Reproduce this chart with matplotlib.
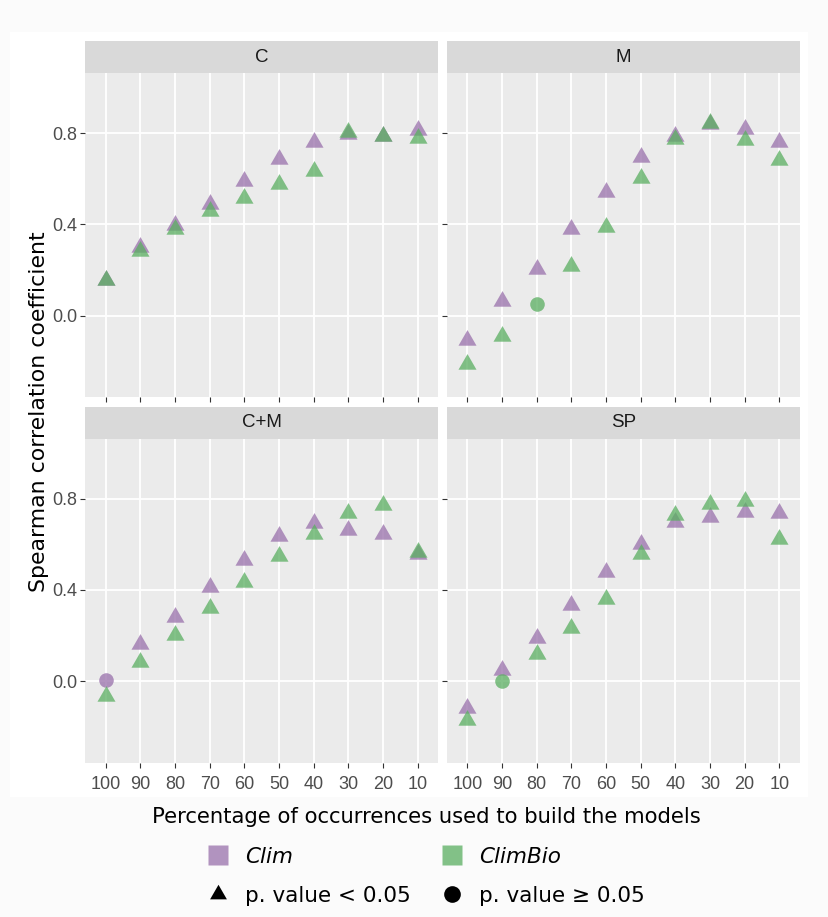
import matplotlib
matplotlib.use("Agg")
import matplotlib.pyplot as plt
from matplotlib.path import Path
from matplotlib.lines import Line2D
from matplotlib.patches import Rectangle
import numpy as np

# ---------------- data ----------------
categories = ["100", "90", "80", "70", "60", "50", "40", "30", "20", "10"]
facets = ["C", "M", "C+M", "SP"]

clim_C = [0.155, 0.300, 0.398, 0.491, 0.591, 0.688, 0.760, 0.796, 0.788, 0.813]
climbio_C = [0.155, 0.284, 0.380, 0.457, 0.517, 0.578, 0.636, 0.803, 0.788, 0.779]

clim_M = [-0.105, 0.066, 0.203, 0.380, 0.542, 0.697, 0.788, 0.840, 0.817, 0.763]
climbio_M = [-0.212, -0.090, 0.053, 0.216, 0.390, 0.602, 0.776, 0.844, 0.769, 0.683]

clim_CM = [0.003, 0.163, 0.279, 0.411, 0.531, 0.637, 0.694, 0.662, 0.644, 0.559]
climbio_CM = [-0.065, 0.085, 0.203, 0.321, 0.434, 0.549, 0.644, 0.738, 0.772, 0.567]

clim_SP = [-0.120, 0.048, 0.189, 0.332, 0.479, 0.603, 0.696, 0.718, 0.741, 0.738]
climbio_SP = [-0.170, -0.001, 0.119, 0.232, 0.361, 0.559, 0.728, 0.779, 0.791, 0.625]

# significance (True = p < 0.05)
sig_clim_C = [True] * 10
sig_climbio_C = [True] * 10
sig_clim_M = [True] * 10
sig_climbio_M = [True, True, False, True, True, True, True, True, True, True]
sig_clim_CM = [False, True, True, True, True, True, True, True, True, True]
sig_climbio_CM = [True] * 10
sig_clim_SP = [True] * 10
sig_climbio_SP = [True, False, True, True, True, True, True, True, True, True]

clim_values = {"C": clim_C, "M": clim_M, "C+M": clim_CM, "SP": clim_SP}
climbio_values = {"C": climbio_C, "M": climbio_M, "C+M": climbio_CM, "SP": climbio_SP}
clim_sig = {"C": sig_clim_C, "M": sig_clim_M, "C+M": sig_clim_CM, "SP": sig_clim_SP}
climbio_sig = {"C": sig_climbio_C, "M": sig_climbio_M, "C+M": sig_climbio_CM, "SP": sig_climbio_SP}

series_colors = {"Clim": "#9970ab", "ClimBio": "#5aae61"}
ALPHA = 0.75

# ---------------- style ----------------
W, H = 829, 917
DPI = 100
fig = plt.figure(figsize=(W / DPI, H / DPI), dpi=DPI, facecolor="#fbfbfb")
fig.patches.append(Rectangle((10 / W, 1 - 797 / H), (808 - 10) / W, (797 - 32) / H,
                             transform=fig.transFigure, facecolor="white",
                             edgecolor="none", zorder=-10))

TICK_FONT = "Liberation Sans"
TITLE_FONT = "DejaVu Sans"

# equilateral triangle centred on its centroid (like R pch 17)
tri_path = Path([(0, 1), (-0.866, -0.5), (0.866, -0.5), (0, 1)],
                [Path.MOVETO, Path.LINETO, Path.LINETO, Path.CLOSEPOLY])

def fx(px):
    return px / W

def fy(py):
    return 1 - py / H

cols_x = [(85, 438.3), (446.7, 800)]
rows_y = [((41, 73.3), (73.3, 397.3)), ((406.7, 439), (439, 762.7))]

YLIM = (-0.358, 1.062)
xpos = np.arange(len(categories))

for i, facet in enumerate(facets):
    r, c = divmod(i, 2)
    x0, x1 = cols_x[c]
    (s0, s1), (p0, p1) = rows_y[r]
    ax = fig.add_axes([fx(x0), fy(p1), fx(x1) - fx(x0), (p1 - p0) / H])
    ax.set_facecolor("#ebebeb")
    for sp in ax.spines.values():
        sp.set_visible(False)

    for name, vals, sigs in [("Clim", clim_values[facet], clim_sig[facet]),
                             ("ClimBio", climbio_values[facet], climbio_sig[facet])]:
        v = np.array(vals)
        s = np.array(sigs)
        ax.plot(xpos[s], v[s], linestyle="None", marker=tri_path, markersize=15,
                markerfacecolor=series_colors[name], markeredgecolor="none",
                alpha=ALPHA, zorder=3)
        if (~s).any():
            ax.plot(xpos[~s], v[~s], linestyle="None", marker="o", markersize=10.5,
                    markerfacecolor=series_colors[name], markeredgecolor="none",
                    alpha=ALPHA, zorder=3)

    ax.set_xlim(-0.6, len(categories) - 0.4)
    ax.set_ylim(*YLIM)
    ax.set_xticks(xpos)
    ax.set_xticklabels(categories, fontfamily=TICK_FONT)
    ax.set_yticks([0.0, 0.4, 0.8])
    ax.set_yticklabels(["0.0", "0.4", "0.8"], fontfamily=TICK_FONT)
    ax.grid(True, color="white", linewidth=1.3, zorder=0)
    ax.set_axisbelow(True)
    ax.tick_params(axis="both", color="#333333", length=3.4, width=0.8,
                   labelsize=13, labelcolor="#4d4d4d")
    ax.tick_params(axis="y", pad=2.4)
    ax.tick_params(axis="x", pad=6.5)
    if c == 1:
        ax.tick_params(axis="y", labelleft=False)
    if r == 0:
        ax.tick_params(axis="x", labelbottom=False)

    # strip
    sax = fig.add_axes([fx(x0), fy(s1), fx(x1) - fx(x0), (s1 - s0) / H])
    sax.set_facecolor("#d9d9d9")
    sax.set_xticks([])
    sax.set_yticks([])
    for sp in sax.spines.values():
        sp.set_visible(False)
    sax.text(0.5, 0.5, facet, ha="center", va="center", fontsize=13.5,
             color="#1a1a1a", fontfamily=TICK_FONT, transform=sax.transAxes)

# axis titles
fig.text(fx(39), fy(412), "Spearman correlation coefficient", rotation=90,
         ha="center", va="center", fontsize=15.8, fontfamily=TITLE_FONT, color="black")
fig.text(fx(426), fy(817), "Percentage of occurrences used to build the models",
         ha="center", va="center", fontsize=15.2, fontfamily=TITLE_FONT, color="black")

# legend
handles = [
    Line2D([], [], linestyle="None", marker="s", markersize=14,
           markerfacecolor=series_colors["Clim"], markeredgecolor="none", alpha=ALPHA),
    Line2D([], [], linestyle="None", marker=tri_path, markersize=14,
           markerfacecolor="black", markeredgecolor="none"),
    Line2D([], [], linestyle="None", marker="s", markersize=14,
           markerfacecolor=series_colors["ClimBio"], markeredgecolor="none", alpha=ALPHA),
    Line2D([], [], linestyle="None", marker="o", markersize=12,
           markerfacecolor="black", markeredgecolor="none"),
]
labels = ["Clim", "p. value < 0.05", "ClimBio", "p. value \u2265 0.05"]
leg = fig.legend(handles, labels, ncol=2, loc="upper left",
                 bbox_to_anchor=(fx(208), fy(847)), frameon=False,
                 borderpad=0, borderaxespad=0, handlelength=0.93,
                 handletextpad=0.79, columnspacing=1.45, labelspacing=0.88,
                 prop={"family": TITLE_FONT, "size": 15.5})
for k in (0, 2):
    leg.get_texts()[k].set_fontstyle("italic")

fig.savefig("out.png", dpi=DPI, facecolor=fig.get_facecolor())
